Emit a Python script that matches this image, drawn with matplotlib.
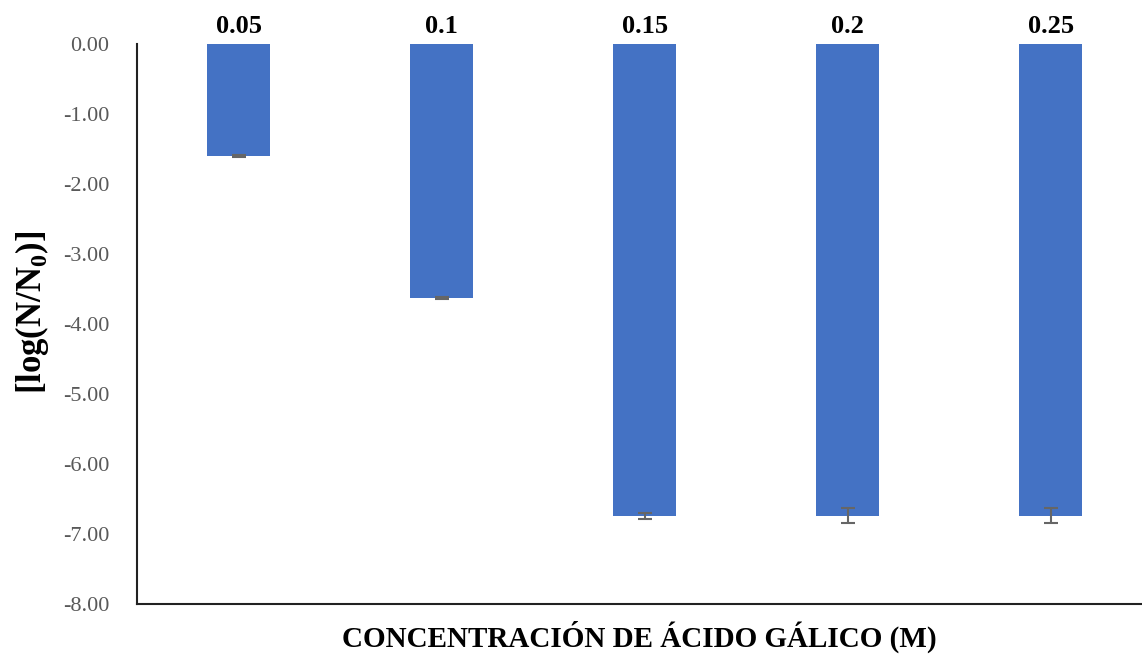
import numpy as np
import matplotlib
matplotlib.use('Agg')
import matplotlib.pyplot as plt

# log reduction per gallic acid concentration
concentrations = ["0.05", "0.1", "0.15", "0.2", "0.25"]
log_reduction = [-1.60, -3.63, -6.74, -6.74, -6.74]
errors = [0.01, 0.02, 0.04, 0.11, 0.11]
y_ticks = [0, -1, -2, -3, -4, -5, -6, -7, -8]

plt.rcParams['font.family'] = 'Liberation Serif'
plt.rcParams['mathtext.fontset'] = 'custom'
plt.rcParams['mathtext.rm'] = 'Liberation Serif'
plt.rcParams['mathtext.bf'] = 'Liberation Serif:bold'

fig = plt.figure(figsize=(11.42, 6.56), dpi=100)
ax = fig.add_axes([0.12, 0.0793, 0.88, 0.854])

x = np.arange(len(concentrations))
ax.bar(x, log_reduction, width=0.31, color="#4472C4", zorder=2)
ax.errorbar(x, log_reduction, yerr=errors, fmt="none", ecolor="#666666",
            elinewidth=1.5, capsize=5, capthick=1.5, zorder=3)

for xi, lab in zip(x, concentrations):
    ax.text(xi, 0.16, lab, ha="center", va="baseline", fontsize=19,
            fontweight="bold", clip_on=False)

ax.set_xlim(-0.5, 4.45)
ax.set_ylim(-8, 0)
ax.set_yticks(y_ticks)
ax.set_yticklabels([f"{v:.2f}" for v in y_ticks], color="#595959", fontsize=16)
ax.tick_params(axis="y", length=0, pad=20)
ax.set_xticks([])

for s in ["top", "right"]:
    ax.spines[s].set_visible(False)
for s in ["left", "bottom"]:
    ax.spines[s].set_color("#222222")
    ax.spines[s].set_linewidth(1.5)

ax.set_xlabel("CONCENTRACIÓN DE ÁCIDO GÁLICO (M)", fontsize=21,
              fontweight="bold", labelpad=12)
ax.set_ylabel(r"[log(N/N$_\mathbf{0}$)]", fontsize=25, fontweight="bold")
ax.yaxis.set_label_coords(-0.086, 0.52)

fig.savefig("out.png", dpi=100)
